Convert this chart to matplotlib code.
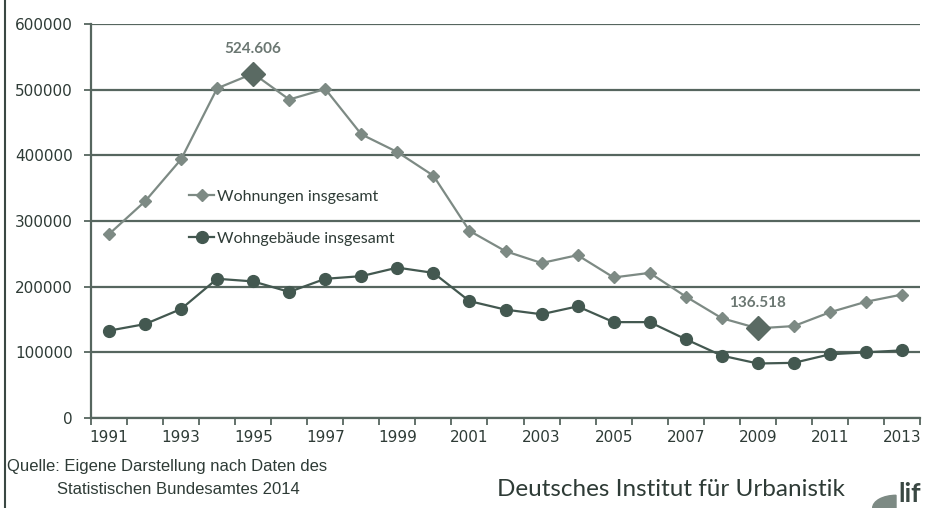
import numpy as np
import matplotlib.pyplot as plt
from matplotlib.patches import Wedge

# Data
years = list(range(1991, 2014))
wohnungen = [280000, 330000, 394000, 502000, 524606, 485000, 501000, 432000, 405000, 369000,
             285000, 254000, 236000, 248000, 214000, 221000, 185000, 152000, 136518, 140000,
             161000, 177000, 188000]
gebaeude = [133000, 143000, 166000, 212000, 208000, 192000, 212000, 216000, 229000, 221000,
            178000, 165000, 158000, 170000, 146000, 146000, 120000, 95000, 83000, 84000,
            97000, 100000, 103000]
highlight_years = [1995, 2009]
highlight_labels = ["524.606", "136.518"]

light_col = "#7d8a84"
dark_col = "#435850"
grid_col = "#56665f"
text_col = "#2e3b36"

fig = plt.figure(figsize=(9.32, 5.08), dpi=100)
ax = fig.add_axes([91 / 932, 90 / 508, 829 / 932, 394 / 508])

x = np.arange(len(years))
ax.plot(x, wohnungen, color=light_col, lw=1.6, marker="D", ms=6.5, label="Wohnungen insgesamt")
ax.plot(x, gebaeude, color=dark_col, lw=1.6, marker="o", ms=8.5, label="Wohngebäude insgesamt")

# highlighted values
for yr, lab in zip(highlight_years, highlight_labels):
    i = years.index(yr)
    ax.plot(x[i], wohnungen[i], marker="D", ms=12, color="#5a6a63", zorder=4)
    ax.annotate(lab, (x[i], wohnungen[i]), xytext=(0, 18), textcoords="offset points",
                ha="center", va="center", fontsize=11, fontweight="bold",
                color="#6b7772", family="Lato")

ax.set_xlim(-0.5, len(years) - 0.5)
ax.set_ylim(0, 600000)
ax.set_yticks(np.arange(0, 600001, 100000))
ax.set_yticklabels([str(v) for v in range(0, 600001, 100000)])
ax.yaxis.grid(True, color=grid_col, lw=1.6)
ax.set_axisbelow(True)

# category boundaries as ticks, labels every second year in the middle
ax.set_xticks(np.arange(-0.5, len(years)), minor=False)
ax.set_xticklabels([])
ax.set_xticks(x[::2], minor=True)
ax.set_xticklabels([str(y) for y in years[::2]], minor=True)
ax.tick_params(axis="x", which="major", length=5, width=1.3, color=grid_col, direction="out")
ax.tick_params(axis="x", which="minor", length=0, pad=9, labelsize=11, labelcolor=text_col)
ax.tick_params(axis="y", length=5, width=1.3, color=grid_col, pad=8, labelsize=11, labelcolor=text_col)

for s in ["top", "right"]:
    ax.spines[s].set_visible(False)
for s in ["left", "bottom"]:
    ax.spines[s].set_color(grid_col)
    ax.spines[s].set_linewidth(1.6)

leg = ax.legend(loc="upper left", bbox_to_anchor=(0.118, 0.58), frameon=False,
                handlelength=1.6, handletextpad=0.15, labelspacing=1.75, borderpad=0,
                borderaxespad=0, prop={"family": "Lato", "size": 11.5})
for t in leg.get_texts():
    t.set_color(text_col)

# left frame line
fig.add_artist(plt.Line2D([4.5 / 932, 4.5 / 932], [0, 1], color="#3a4843", lw=1.5))

# footer
fig.text(7 / 932, 1 - 467 / 508, "Quelle: Eigene Darstellung nach Daten des", fontsize=12,
         color=text_col, va="center", ha="left", family="Liberation Sans")
fig.text(57 / 932, 1 - 490 / 508, "Statistischen Bundesamtes 2014", fontsize=12,
         color=text_col, va="center", ha="left", family="Liberation Sans")
fig.text(845 / 932, 1 - 490 / 508, "Deutsches Institut für Urbanistik", fontsize=17.5,
         color=text_col, va="center", ha="right", family="Lato")

# logo fragment
fig.add_artist(Wedge((896 / 932, 0.0), 0.025, 90, 270, color="#7d8a84",
                     transform=fig.transFigure))
fig.text(898 / 932, 1 - 494 / 508, "lif", fontsize=19, color="#3a4843", va="center",
         ha="left", family="Lato", fontweight="bold")

fig.savefig("out.png", dpi=100)
